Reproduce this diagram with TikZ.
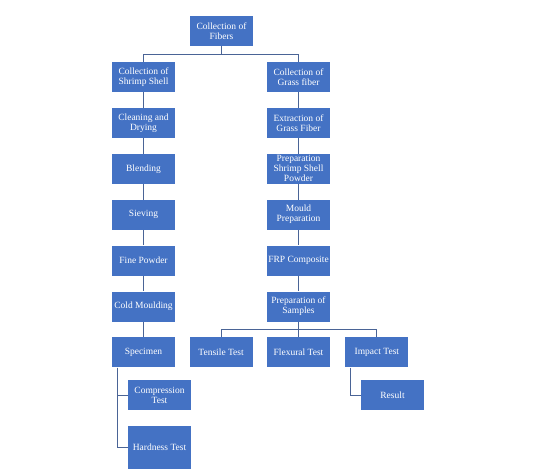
\documentclass[tikz,border=0pt]{standalone}
\usepackage{fontspec}
\setmainfont{Liberation Serif}
\usetikzlibrary{positioning}

\definecolor{boxblue}{RGB}{68,114,196}
\definecolor{linkblue}{RGB}{74,100,150}

\tikzset{
  stepbox/.style={fill=boxblue, text=white, minimum width=63pt, minimum height=30pt,
    inner xsep=1pt, inner ysep=0pt, align=center, font=\fontsize{9.5}{10}\selectfont},
  link/.style={draw=linkblue, line width=0.9pt},
}

\begin{document}
\begin{tikzpicture}[x=1pt, y=1pt, node distance=15.5pt]
\useasboundingbox (0,0) rectangle (550,-472);

% top
\node[stepbox] (fibers) at (221.5,-31) {Collection of\\Fibers};

% shrimp shell column
\node[stepbox] (shrimp) at (143.5,-77) {Collection of\\Shrimp Shell};
\node[stepbox, below=of shrimp] (cleaning) {Cleaning and\\Drying};
\node[stepbox, below=of cleaning] (blending) {Blending};
\node[stepbox, below=of blending] (sieving) {Sieving};
\node[stepbox, below=of sieving] (powder) {Fine Powder};
\node[stepbox, below=of powder] (cold) {Cold Moulding};
\node[stepbox, below=of cold] (specimen) {Specimen};
\node[stepbox] (compression) at (159.5,-395) {Compression\\Test};
\node[stepbox, minimum height=43pt] (hardness) at (159.5,-447.5) {Hardness Test};

% grass fiber column
\node[stepbox] (grass) at (298.5,-77) {Collection of\\Grass fiber};
\node[stepbox, below=of grass] (extraction) {Extraction of\\Grass Fiber};
\node[stepbox, below=of extraction] (prepshell) {Preparation\\Shrimp Shell\\Powder};
\node[stepbox, below=of prepshell] (mould) {Mould\\Preparation};
\node[stepbox, below=of mould] (frp) {FRP Composite};
\node[stepbox, below=of frp] (samples) {Preparation of\\Samples};
\node[stepbox, below=of samples] (flexural) {Flexural Test};
\node[stepbox, left=14pt of flexural] (tensile) {Tensile Test};
\node[stepbox, right=15pt of flexural] (impact) {Impact Test};
\node[stepbox] (result) at (392.5,-395) {Result};

% connectors
\draw[link] (fibers.south) -- ++(0,-8) -| (shrimp.north);
\draw[link] (fibers.south) -- ++(0,-8) -| (grass.north);
\foreach \a/\b in {shrimp/cleaning, cleaning/blending, blending/sieving, sieving/powder,
  powder/cold, cold/specimen, grass/extraction, extraction/prepshell, prepshell/mould,
  mould/frp, frp/samples}
  \draw[link] (\a) -- (\b);
\draw[link] (samples.south) -- ++(0,-7.5) -| (tensile.north);
\draw[link] (samples.south) -- (flexural.north);
\draw[link] (samples.south) -- ++(0,-7.5) -| (impact.north);
\draw[link] ([xshift=6pt]specimen.south west) |- (compression.west);
\draw[link] ([xshift=6pt]specimen.south west) |- (hardness.west);
\draw[link] ([xshift=5pt]impact.south west) |- (result.west);
\end{tikzpicture}
\end{document}
